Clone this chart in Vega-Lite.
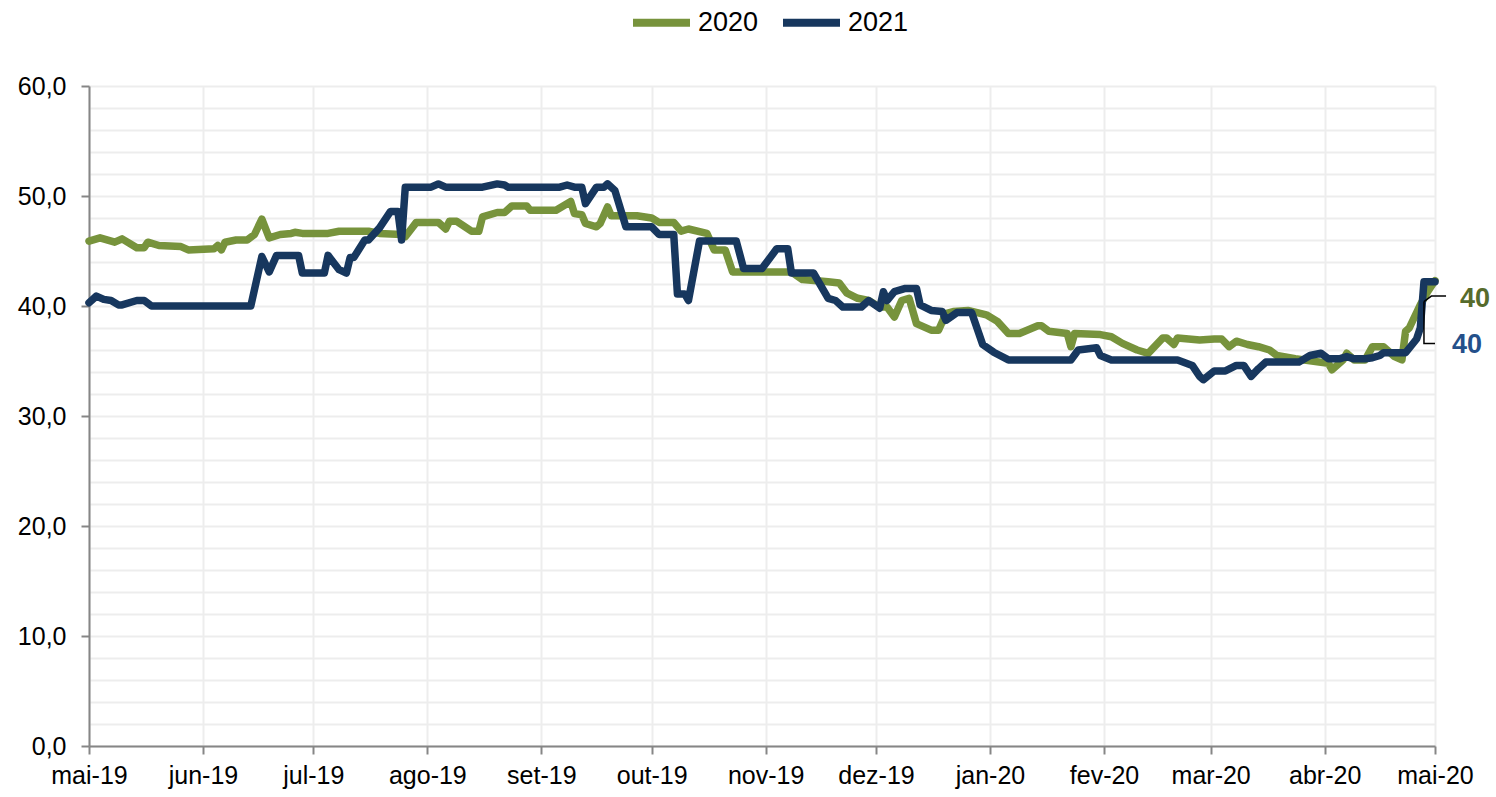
{
  "$schema": "https://vega.github.io/schema/vega-lite/v6.json",
  "width": 1346,
  "height": 660,
  "autosize": "none",
  "padding": {"left": 89, "top": 86, "right": 61, "bottom": 51},
  "background": "white",
  "config": {"view": {"stroke": null}, "font": "Liberation Sans"},
  "datasets": {
    "series": [
      {"serie":"2020","data":"2019-05-01","valor":45.9},{"serie":"2020","data":"2019-05-04","valor":46.2},{"serie":"2020","data":"2019-05-08","valor":45.8},{"serie":"2020","data":"2019-05-10","valor":46.1},{"serie":"2020","data":"2019-05-14","valor":45.3},{"serie":"2020","data":"2019-05-16","valor":45.3},{"serie":"2020","data":"2019-05-17","valor":45.8},{"serie":"2020","data":"2019-05-20","valor":45.5},{"serie":"2020","data":"2019-05-26","valor":45.4},{"serie":"2020","data":"2019-05-28","valor":45.1},{"serie":"2020","data":"2019-06-04","valor":45.2},{"serie":"2020","data":"2019-06-05","valor":45.5},{"serie":"2020","data":"2019-06-06","valor":45.1},{"serie":"2020","data":"2019-06-07","valor":45.8},{"serie":"2020","data":"2019-06-10","valor":46.0},{"serie":"2020","data":"2019-06-13","valor":46.0},{"serie":"2020","data":"2019-06-15","valor":46.5},{"serie":"2020","data":"2019-06-17","valor":47.9},{"serie":"2020","data":"2019-06-19","valor":46.2},{"serie":"2020","data":"2019-06-22","valor":46.5},{"serie":"2020","data":"2019-06-25","valor":46.6},{"serie":"2020","data":"2019-06-26","valor":46.7},{"serie":"2020","data":"2019-06-28","valor":46.6},{"serie":"2020","data":"2019-07-05","valor":46.6},{"serie":"2020","data":"2019-07-08","valor":46.8},{"serie":"2020","data":"2019-07-16","valor":46.8},{"serie":"2020","data":"2019-07-19","valor":46.6},{"serie":"2020","data":"2019-07-25","valor":46.5},{"serie":"2020","data":"2019-07-26","valor":46.3},{"serie":"2020","data":"2019-07-29","valor":47.6},{"serie":"2020","data":"2019-08-04","valor":47.6},{"serie":"2020","data":"2019-08-06","valor":47.0},{"serie":"2020","data":"2019-08-07","valor":47.7},{"serie":"2020","data":"2019-08-09","valor":47.7},{"serie":"2020","data":"2019-08-13","valor":46.8},{"serie":"2020","data":"2019-08-15","valor":46.8},{"serie":"2020","data":"2019-08-16","valor":48.1},{"serie":"2020","data":"2019-08-20","valor":48.5},{"serie":"2020","data":"2019-08-22","valor":48.5},{"serie":"2020","data":"2019-08-24","valor":49.1},{"serie":"2020","data":"2019-08-28","valor":49.1},{"serie":"2020","data":"2019-08-29","valor":48.7},{"serie":"2020","data":"2019-09-05","valor":48.7},{"serie":"2020","data":"2019-09-09","valor":49.5},{"serie":"2020","data":"2019-09-10","valor":48.4},{"serie":"2020","data":"2019-09-12","valor":48.3},{"serie":"2020","data":"2019-09-13","valor":47.5},{"serie":"2020","data":"2019-09-16","valor":47.2},{"serie":"2020","data":"2019-09-17","valor":47.5},{"serie":"2020","data":"2019-09-19","valor":49.0},{"serie":"2020","data":"2019-09-20","valor":48.2},{"serie":"2020","data":"2019-09-27","valor":48.2},{"serie":"2020","data":"2019-10-01","valor":48.0},{"serie":"2020","data":"2019-10-03","valor":47.6},{"serie":"2020","data":"2019-10-07","valor":47.6},{"serie":"2020","data":"2019-10-09","valor":46.8},{"serie":"2020","data":"2019-10-11","valor":47.0},{"serie":"2020","data":"2019-10-16","valor":46.6},{"serie":"2020","data":"2019-10-18","valor":45.1},{"serie":"2020","data":"2019-10-21","valor":45.1},{"serie":"2020","data":"2019-10-23","valor":43.1},{"serie":"2020","data":"2019-11-08","valor":43.1},{"serie":"2020","data":"2019-11-11","valor":42.4},{"serie":"2020","data":"2019-11-18","valor":42.2},{"serie":"2020","data":"2019-11-21","valor":42.1},{"serie":"2020","data":"2019-11-23","valor":41.2},{"serie":"2020","data":"2019-11-26","valor":40.7},{"serie":"2020","data":"2019-11-29","valor":40.5},{"serie":"2020","data":"2019-12-02","valor":39.9},{"serie":"2020","data":"2019-12-04","valor":39.9},{"serie":"2020","data":"2019-12-06","valor":39.0},{"serie":"2020","data":"2019-12-08","valor":40.5},{"serie":"2020","data":"2019-12-10","valor":40.7},{"serie":"2020","data":"2019-12-12","valor":38.4},{"serie":"2020","data":"2019-12-16","valor":37.8},{"serie":"2020","data":"2019-12-18","valor":37.8},{"serie":"2020","data":"2019-12-20","valor":39.3},{"serie":"2020","data":"2019-12-22","valor":39.5},{"serie":"2020","data":"2019-12-26","valor":39.6},{"serie":"2020","data":"2019-12-31","valor":39.2},{"serie":"2020","data":"2020-01-03","valor":38.6},{"serie":"2020","data":"2020-01-06","valor":37.5},{"serie":"2020","data":"2020-01-09","valor":37.5},{"serie":"2020","data":"2020-01-14","valor":38.2},{"serie":"2020","data":"2020-01-15","valor":38.2},{"serie":"2020","data":"2020-01-17","valor":37.7},{"serie":"2020","data":"2020-01-22","valor":37.5},{"serie":"2020","data":"2020-01-23","valor":36.3},{"serie":"2020","data":"2020-01-24","valor":37.5},{"serie":"2020","data":"2020-01-31","valor":37.4},{"serie":"2020","data":"2020-02-03","valor":37.2},{"serie":"2020","data":"2020-02-06","valor":36.6},{"serie":"2020","data":"2020-02-10","valor":36.0},{"serie":"2020","data":"2020-02-13","valor":35.7},{"serie":"2020","data":"2020-02-17","valor":37.1},{"serie":"2020","data":"2020-02-18","valor":37.1},{"serie":"2020","data":"2020-02-20","valor":36.5},{"serie":"2020","data":"2020-02-21","valor":37.1},{"serie":"2020","data":"2020-02-27","valor":36.9},{"serie":"2020","data":"2020-03-02","valor":37.0},{"serie":"2020","data":"2020-03-04","valor":37.0},{"serie":"2020","data":"2020-03-06","valor":36.3},{"serie":"2020","data":"2020-03-08","valor":36.8},{"serie":"2020","data":"2020-03-11","valor":36.5},{"serie":"2020","data":"2020-03-14","valor":36.3},{"serie":"2020","data":"2020-03-17","valor":36.0},{"serie":"2020","data":"2020-03-19","valor":35.5},{"serie":"2020","data":"2020-03-24","valor":35.2},{"serie":"2020","data":"2020-04-02","valor":34.8},{"serie":"2020","data":"2020-04-03","valor":34.2},{"serie":"2020","data":"2020-04-06","valor":35.1},{"serie":"2020","data":"2020-04-07","valor":35.7},{"serie":"2020","data":"2020-04-09","valor":35.1},{"serie":"2020","data":"2020-04-12","valor":35.1},{"serie":"2020","data":"2020-04-14","valor":36.3},{"serie":"2020","data":"2020-04-17","valor":36.3},{"serie":"2020","data":"2020-04-20","valor":35.4},{"serie":"2020","data":"2020-04-22","valor":35.1},{"serie":"2020","data":"2020-04-23","valor":37.7},{"serie":"2020","data":"2020-04-24","valor":38.0},{"serie":"2020","data":"2020-04-27","valor":40.1},{"serie":"2020","data":"2020-04-29","valor":41.3},{"serie":"2020","data":"2020-05-01","valor":42.3},
      {"serie":"2021","data":"2019-05-01","valor":40.3},{"serie":"2021","data":"2019-05-03","valor":40.9},{"serie":"2021","data":"2019-05-05","valor":40.6},{"serie":"2021","data":"2019-05-07","valor":40.5},{"serie":"2021","data":"2019-05-09","valor":40.1},{"serie":"2021","data":"2019-05-10","valor":40.1},{"serie":"2021","data":"2019-05-14","valor":40.5},{"serie":"2021","data":"2019-05-16","valor":40.5},{"serie":"2021","data":"2019-05-18","valor":40.0},{"serie":"2021","data":"2019-06-14","valor":40.0},{"serie":"2021","data":"2019-06-17","valor":44.5},{"serie":"2021","data":"2019-06-19","valor":43.1},{"serie":"2021","data":"2019-06-21","valor":44.6},{"serie":"2021","data":"2019-06-27","valor":44.6},{"serie":"2021","data":"2019-06-28","valor":43.0},{"serie":"2021","data":"2019-07-04","valor":43.0},{"serie":"2021","data":"2019-07-05","valor":44.6},{"serie":"2021","data":"2019-07-08","valor":43.3},{"serie":"2021","data":"2019-07-10","valor":43.0},{"serie":"2021","data":"2019-07-11","valor":44.4},{"serie":"2021","data":"2019-07-12","valor":44.4},{"serie":"2021","data":"2019-07-15","valor":46.0},{"serie":"2021","data":"2019-07-16","valor":46.0},{"serie":"2021","data":"2019-07-19","valor":47.1},{"serie":"2021","data":"2019-07-22","valor":48.6},{"serie":"2021","data":"2019-07-24","valor":48.6},{"serie":"2021","data":"2019-07-25","valor":46.0},{"serie":"2021","data":"2019-07-26","valor":50.8},{"serie":"2021","data":"2019-08-02","valor":50.8},{"serie":"2021","data":"2019-08-04","valor":51.1},{"serie":"2021","data":"2019-08-06","valor":50.8},{"serie":"2021","data":"2019-08-16","valor":50.8},{"serie":"2021","data":"2019-08-20","valor":51.1},{"serie":"2021","data":"2019-08-22","valor":51.0},{"serie":"2021","data":"2019-08-23","valor":50.8},{"serie":"2021","data":"2019-09-06","valor":50.8},{"serie":"2021","data":"2019-09-08","valor":51.0},{"serie":"2021","data":"2019-09-10","valor":50.8},{"serie":"2021","data":"2019-09-12","valor":50.8},{"serie":"2021","data":"2019-09-13","valor":49.3},{"serie":"2021","data":"2019-09-16","valor":50.8},{"serie":"2021","data":"2019-09-18","valor":50.8},{"serie":"2021","data":"2019-09-19","valor":51.1},{"serie":"2021","data":"2019-09-21","valor":50.5},{"serie":"2021","data":"2019-09-24","valor":47.2},{"serie":"2021","data":"2019-10-01","valor":47.2},{"serie":"2021","data":"2019-10-03","valor":46.5},{"serie":"2021","data":"2019-10-07","valor":46.5},{"serie":"2021","data":"2019-10-08","valor":41.1},{"serie":"2021","data":"2019-10-10","valor":41.1},{"serie":"2021","data":"2019-10-11","valor":40.5},{"serie":"2021","data":"2019-10-14","valor":45.9},{"serie":"2021","data":"2019-10-24","valor":45.9},{"serie":"2021","data":"2019-10-26","valor":43.4},{"serie":"2021","data":"2019-10-31","valor":43.4},{"serie":"2021","data":"2019-11-04","valor":45.2},{"serie":"2021","data":"2019-11-07","valor":45.2},{"serie":"2021","data":"2019-11-08","valor":43.0},{"serie":"2021","data":"2019-11-14","valor":43.0},{"serie":"2021","data":"2019-11-18","valor":40.7},{"serie":"2021","data":"2019-11-20","valor":40.5},{"serie":"2021","data":"2019-11-22","valor":39.9},{"serie":"2021","data":"2019-11-27","valor":39.9},{"serie":"2021","data":"2019-11-29","valor":40.5},{"serie":"2021","data":"2019-12-02","valor":39.8},{"serie":"2021","data":"2019-12-03","valor":41.3},{"serie":"2021","data":"2019-12-04","valor":40.5},{"serie":"2021","data":"2019-12-06","valor":41.3},{"serie":"2021","data":"2019-12-09","valor":41.6},{"serie":"2021","data":"2019-12-12","valor":41.6},{"serie":"2021","data":"2019-12-13","valor":40.1},{"serie":"2021","data":"2019-12-16","valor":39.6},{"serie":"2021","data":"2019-12-19","valor":39.5},{"serie":"2021","data":"2019-12-20","valor":38.7},{"serie":"2021","data":"2019-12-23","valor":39.4},{"serie":"2021","data":"2019-12-27","valor":39.4},{"serie":"2021","data":"2019-12-30","valor":36.5},{"serie":"2021","data":"2020-01-02","valor":35.8},{"serie":"2021","data":"2020-01-06","valor":35.1},{"serie":"2021","data":"2020-01-23","valor":35.1},{"serie":"2021","data":"2020-01-25","valor":36.0},{"serie":"2021","data":"2020-01-30","valor":36.2},{"serie":"2021","data":"2020-01-31","valor":35.5},{"serie":"2021","data":"2020-02-03","valor":35.1},{"serie":"2021","data":"2020-02-21","valor":35.1},{"serie":"2021","data":"2020-02-25","valor":34.6},{"serie":"2021","data":"2020-02-27","valor":33.6},{"serie":"2021","data":"2020-02-28","valor":33.3},{"serie":"2021","data":"2020-03-02","valor":34.1},{"serie":"2021","data":"2020-03-05","valor":34.1},{"serie":"2021","data":"2020-03-08","valor":34.6},{"serie":"2021","data":"2020-03-10","valor":34.6},{"serie":"2021","data":"2020-03-12","valor":33.6},{"serie":"2021","data":"2020-03-14","valor":34.3},{"serie":"2021","data":"2020-03-16","valor":34.9},{"serie":"2021","data":"2020-03-25","valor":34.9},{"serie":"2021","data":"2020-03-28","valor":35.5},{"serie":"2021","data":"2020-03-31","valor":35.7},{"serie":"2021","data":"2020-04-02","valor":35.2},{"serie":"2021","data":"2020-04-05","valor":35.2},{"serie":"2021","data":"2020-04-07","valor":35.4},{"serie":"2021","data":"2020-04-09","valor":35.2},{"serie":"2021","data":"2020-04-12","valor":35.2},{"serie":"2021","data":"2020-04-14","valor":35.3},{"serie":"2021","data":"2020-04-16","valor":35.5},{"serie":"2021","data":"2020-04-17","valor":35.75},{"serie":"2021","data":"2020-04-23","valor":35.75},{"serie":"2021","data":"2020-04-26","valor":37.0},{"serie":"2021","data":"2020-04-27","valor":38.0},{"serie":"2021","data":"2020-04-28","valor":42.2},{"serie":"2021","data":"2020-05-01","valor":42.2}
    ],
    "leaders": [
      {"grupo":"2020","ordem":1,"data":"2020-04-28","valor":40.4},
      {"grupo":"2020","ordem":2,"data":"2020-04-30","valor":40.9},
      {"grupo":"2020","ordem":3,"data":"2020-05-04","valor":40.9},
      {"grupo":"2021","ordem":1,"data":"2020-04-28","valor":40.4},
      {"grupo":"2021","ordem":2,"data":"2020-04-28","valor":36.6},
      {"grupo":"2021","ordem":3,"data":"2020-05-01","valor":36.6}
    ],
    "labels": [
      {"serie":"2020","data":"2020-05-01","valor":42.2,"rotulo":"40"},
      {"serie":"2021","data":"2020-05-01","valor":42.2,"rotulo":"40"}
    ]
  },
  "layer": [
    {
      "data": {"name": "series"},
      "mark": {"type": "line", "strokeWidth": 7.5, "strokeJoin": "round", "strokeCap": "round"},
      "encoding": {
        "x": {
          "field": "data", "type": "temporal",
          "scale": {"type": "utc", "domain": [{"year": 2019, "month": 5, "date": 1, "utc": true}, {"year": 2020, "month": 5, "date": 1, "utc": true}]},
          "axis": {
            "title": null,
            "tickCount": {"interval": "month", "step": 1},
            "labelExpr": "['jan','fev','mar','abr','mai','jun','jul','ago','set','out','nov','dez'][utcmonth(datum.value)] + '-' + utcFormat(datum.value, '%y')",
            "labelFontSize": 25, "labelColor": "#000000", "labelFont": "Liberation Sans",
            "labelPadding": 9, "labelFlush": false, "labelOverlap": false,
            "domainColor": "#868686", "domainWidth": 2,
            "tickColor": "#868686", "tickWidth": 2, "tickSize": 8,
            "grid": true, "gridColor": "#EDEDED", "gridWidth": 2
          }
        },
        "y": {
          "field": "valor", "type": "quantitative",
          "scale": {"domain": [0, 60], "nice": false, "zero": true},
          "axis": {
            "title": null,
            "tickCount": 31,
            "values": [0,2,4,6,8,10,12,14,16,18,20,22,24,26,28,30,32,34,36,38,40,42,44,46,48,50,52,54,56,58,60],
            "labelExpr": "datum.value % 10 === 0 ? replace(format(datum.value, '.1f'), '.', ',') : ''",
            "labelFontSize": 25, "labelColor": "#000000", "labelFont": "Liberation Sans",
            "labelPadding": 15, "labelOverlap": false,
            "domainColor": "#868686", "domainWidth": 2,
            "tickColor": {"condition": {"test": "datum.value % 10 === 0", "value": "#868686"}, "value": "transparent"},
            "tickWidth": 2, "tickSize": 8,
            "grid": true, "gridColor": "#EDEDED", "gridWidth": 2
          }
        },
        "color": {
          "field": "serie", "type": "nominal",
          "scale": {"domain": ["2020", "2021"], "range": ["#77933C", "#17375E"]},
          "legend": {
            "title": null, "orient": "none", "legendX": 540, "legendY": -96,
            "direction": "horizontal", "labelFontSize": 27, "labelColor": "#000000", "labelFont": "Liberation Sans",
            "symbolType": "stroke", "symbolStrokeWidth": 8, "symbolSize": 3249,
            "labelOffset": 4, "columnPadding": 8, "padding": 0
          }
        }
      }
    },
    {
      "data": {"name": "leaders"},
      "mark": {"type": "line", "color": "#000000", "strokeWidth": 1.5, "clip": false},
      "encoding": {
        "x": {"field": "data", "type": "temporal"},
        "y": {"field": "valor", "type": "quantitative"},
        "detail": {"field": "grupo", "type": "nominal"},
        "order": {"field": "ordem", "type": "quantitative"}
      }
    },
    {
      "data": {"name": "labels"},
      "transform": [{"filter": "datum.serie === '2020'"}],
      "mark": {"type": "text", "dx": 40, "dy": 17, "fontSize": 27, "fontWeight": "bold", "color": "#566B2C", "align": "center", "baseline": "middle", "clip": false},
      "encoding": {
        "x": {"field": "data", "type": "temporal"},
        "y": {"field": "valor", "type": "quantitative"},
        "text": {"field": "rotulo"}
      }
    },
    {
      "data": {"name": "labels"},
      "transform": [{"filter": "datum.serie === '2021'"}],
      "mark": {"type": "text", "dx": 32, "dy": 63, "fontSize": 27, "fontWeight": "bold", "color": "#24508A", "align": "center", "baseline": "middle", "clip": false},
      "encoding": {
        "x": {"field": "data", "type": "temporal"},
        "y": {"field": "valor", "type": "quantitative"},
        "text": {"field": "rotulo"}
      }
    }
  ]
}
